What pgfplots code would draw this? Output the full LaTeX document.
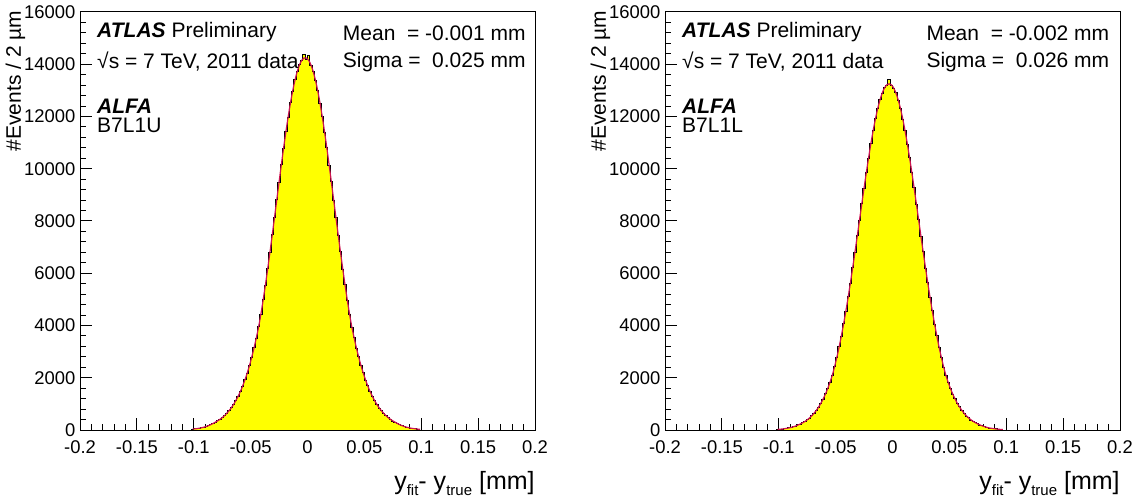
\documentclass[border=0pt]{standalone}
\usepackage{fontspec}
\setmainfont{Liberation Sans}
\usepackage{pgfplots}
\usepackage{pgfplotstable}
\pgfplotsset{compat=1.18}
\definecolor{histyellow}{RGB}{255,255,0}
\definecolor{fitred}{RGB}{205,20,80}

\pgfplotstableread{
e h f
-0.102 30 34
-0.100 47 44
-0.098 52 55
-0.096 72 69
-0.094 84 87
-0.092 112 109
-0.090 131 135
-0.088 171 167
-0.086 200 205
-0.084 256 251
-0.082 296 300
-0.080 356 350
-0.078 402 407
-0.076 480 473
-0.074 545 549
-0.072 645 637
-0.070 730 737
-0.068 860 850
-0.066 972 980
-0.064 1135 1126
-0.062 1283 1291
-0.060 1490 1478
-0.058 1679 1687
-0.056 1935 1921
-0.054 2170 2182
-0.052 2485 2471
-0.050 2778 2790
-0.048 3155 3141
-0.046 3512 3525
-0.044 3960 3942
-0.042 4410 4425
-0.040 4990 4973
-0.038 5540 5556
-0.036 6185 6168
-0.034 6790 6806
-0.032 7480 7464
-0.030 8120 8135
-0.028 8830 8812
-0.026 9470 9487
-0.024 10170 10152
-0.022 10780 10796
-0.020 11430 11411
-0.018 11970 11986
-0.016 12530 12513
-0.014 12970 12984
-0.012 13410 13390
-0.010 13705 13723
-0.008 14000 13979
-0.006 14130 14152
-0.004 14380 14239
-0.002 14200 14239
0.000 14330 14152
0.002 13960 13979
0.004 13740 13723
0.006 13370 13390
0.008 13000 12984
0.010 12495 12513
0.012 12000 11986
0.014 11395 11411
0.016 10810 10796
0.018 10135 10152
0.020 9500 9487
0.022 8795 8812
0.024 8150 8135
0.026 7450 7464
0.028 6820 6806
0.030 6150 6168
0.032 5570 5556
0.034 4960 4973
0.036 4440 4425
0.038 3930 3942
0.040 3540 3525
0.042 3130 3141
0.044 2800 2790
0.046 2460 2471
0.048 2190 2182
0.050 1910 1921
0.052 1695 1687
0.054 1470 1478
0.056 1300 1291
0.058 1118 1126
0.060 988 980
0.062 842 850
0.064 745 737
0.066 630 637
0.068 556 549
0.070 466 473
0.072 412 407
0.074 344 350
0.076 305 300
0.078 246 251
0.080 210 205
0.082 162 167
0.084 139 135
0.086 105 109
0.088 90 87
0.090 66 69
0.092 57 55
0.094 41 44
0.096 36 34
0.098 0 26
}\leftdata

\pgfplotstableread{
e h f
-0.102 20 23
-0.100 33 30
-0.098 36 38
-0.096 52 49
-0.094 60 63
-0.092 82 79
-0.090 97 100
-0.088 129 125
-0.086 151 155
-0.084 197 193
-0.082 226 230
-0.080 280 275
-0.078 322 327
-0.076 395 389
-0.074 454 460
-0.072 550 543
-0.070 632 639
-0.068 758 749
-0.066 868 876
-0.064 1030 1021
-0.062 1178 1186
-0.060 1385 1373
-0.058 1575 1584
-0.056 1832 1820
-0.054 2074 2085
-0.052 2420 2410
-0.050 2760 2770
-0.048 3178 3165
-0.046 3580 3594
-0.044 4070 4058
-0.042 4540 4553
-0.040 5095 5080
-0.038 5620 5635
-0.036 6230 6213
-0.034 6795 6810
-0.032 7435 7420
-0.030 8020 8037
-0.028 8670 8653
-0.026 9245 9263
-0.024 9875 9856
-0.022 10410 10427
-0.020 10980 10964
-0.018 11445 11462
-0.016 11930 11911
-0.014 12290 12305
-0.012 12655 12637
-0.010 12885 12902
-0.008 13110 13094
-0.006 13190 13211
-0.004 13420 13250
-0.002 13200 13211
0.000 13080 13094
0.002 12920 12902
0.004 12620 12637
0.006 12320 12305
0.008 11895 11911
0.010 11480 11462
0.012 10945 10964
0.014 10440 10427
0.016 9840 9856
0.018 9280 9263
0.020 8635 8653
0.022 8055 8037
0.024 7405 7420
0.026 6825 6810
0.028 6195 6213
0.030 5650 5635
0.032 5065 5080
0.034 4570 4553
0.036 4040 4058
0.038 3610 3594
0.040 3150 3165
0.042 2785 2770
0.044 2395 2410
0.046 2100 2085
0.048 1805 1820
0.050 1595 1584
0.052 1360 1373
0.054 1198 1186
0.056 1010 1021
0.058 885 876
0.060 740 749
0.062 648 639
0.064 535 543
0.066 468 460
0.068 382 389
0.070 333 327
0.072 268 275
0.074 236 230
0.076 187 193
0.078 160 155
0.080 120 125
0.082 104 100
0.084 75 79
0.086 66 63
0.088 46 49
0.090 40 38
0.092 28 30
0.094 25 23
0.096 0 18
}\rightdata

\newcommand{\txt}{\fontsize{10.5bp}{12bp}\selectfont}
\newcommand{\sub}[1]{\raisebox{-0.45ex}{\fontsize{7.5bp}{8bp}\selectfont #1}}

\pgfplotsset{
  alfa/.style={
    width=227.5bp, height=209bp, scale only axis,
    anchor=south west,
    xmin=-0.2, xmax=0.2, ymin=0, ymax=16000,
    xtick={-0.2,-0.15,-0.1,-0.05,0,0.05,0.1,0.15,0.2},
    xticklabels={-0.2,-0.15,-0.1,-0.05,0,0.05,0.1,0.15,0.2},
    ytick={0,2000,4000,6000,8000,10000,12000,14000,16000},
    yticklabels={0,2000,4000,6000,8000,10000,12000,14000,16000},
    minor x tick num=4, minor y tick num=4,
    tick pos=left, tick align=inside,
    major tick length=6bp, minor tick length=3bp,
    axis line style={line width=0.5bp},
    every tick/.style={black, line width=0.5bp},
    tick label style={font=\fontsize{9.2bp}{11bp}\selectfont},
    xticklabel style={yshift=-2bp},
    yticklabel style={xshift=1.2bp},
    xlabel={y\sub{fit}- y\sub{true} [mm]},
    xlabel style={at={(axis description cs:1,-0.143)}, anchor=base east, font=\fontsize{12.5bp}{14bp}\selectfont, inner sep=0pt},
    ylabel={\#Events / 2 µm},
    ylabel style={at={(axis description cs:-0.13,1.004)}, anchor=base east, font=\fontsize{10.5bp}{12bp}\selectfont, inner sep=0pt},
  }
}

\begin{document}
\begin{tikzpicture}
\path[use as bounding box] (0,0) rectangle (568bp,252bp);

\begin{axis}[alfa, at={(40bp,37bp)}]
\addplot[fill=histyellow, draw=black, line width=0.5bp, const plot mark left] table[x=e, y=h] {\leftdata} \closedcycle;
\addplot[fitred, line width=0.6bp, smooth, no markers] table[x expr=\thisrow{e}+0.001, y=f] {\leftdata};
\node[anchor=west, inner sep=0pt, font=\txt] at (rel axis cs:0.037,0.952) {\textbf{\textit{ATLAS}} Preliminary};
\node[anchor=west, inner sep=0pt, font=\txt] at (rel axis cs:0.037,0.882) {√s = 7 TeV, 2011 data};
\node[anchor=west, inner sep=0pt, font=\txt] at (rel axis cs:0.037,0.775) {\textbf{\textit{ALFA}}};
\node[anchor=west, inner sep=0pt, font=\txt] at (rel axis cs:0.037,0.729) {B7L1U};
\node[anchor=west, inner sep=0pt, font=\txt] at (rel axis cs:0.577,0.949) {Mean\ \ = -0.001 mm};
\node[anchor=west, inner sep=0pt, font=\txt] at (rel axis cs:0.577,0.881) {Sigma =\ \ 0.025 mm};
\end{axis}

\begin{axis}[alfa, at={(332.5bp,37bp)}]
\addplot[fill=histyellow, draw=black, line width=0.5bp, const plot mark left] table[x=e, y=h] {\rightdata} \closedcycle;
\addplot[fitred, line width=0.6bp, smooth, no markers] table[x expr=\thisrow{e}+0.001, y=f] {\rightdata};
\node[anchor=west, inner sep=0pt, font=\txt] at (rel axis cs:0.037,0.952) {\textbf{\textit{ATLAS}} Preliminary};
\node[anchor=west, inner sep=0pt, font=\txt] at (rel axis cs:0.037,0.882) {√s = 7 TeV, 2011 data};
\node[anchor=west, inner sep=0pt, font=\txt] at (rel axis cs:0.037,0.775) {\textbf{\textit{ALFA}}};
\node[anchor=west, inner sep=0pt, font=\txt] at (rel axis cs:0.037,0.729) {B7L1L};
\node[anchor=west, inner sep=0pt, font=\txt] at (rel axis cs:0.574,0.949) {Mean\ \ = -0.002 mm};
\node[anchor=west, inner sep=0pt, font=\txt] at (rel axis cs:0.574,0.881) {Sigma =\ \ 0.026 mm};
\end{axis}
\end{tikzpicture}
\end{document}
